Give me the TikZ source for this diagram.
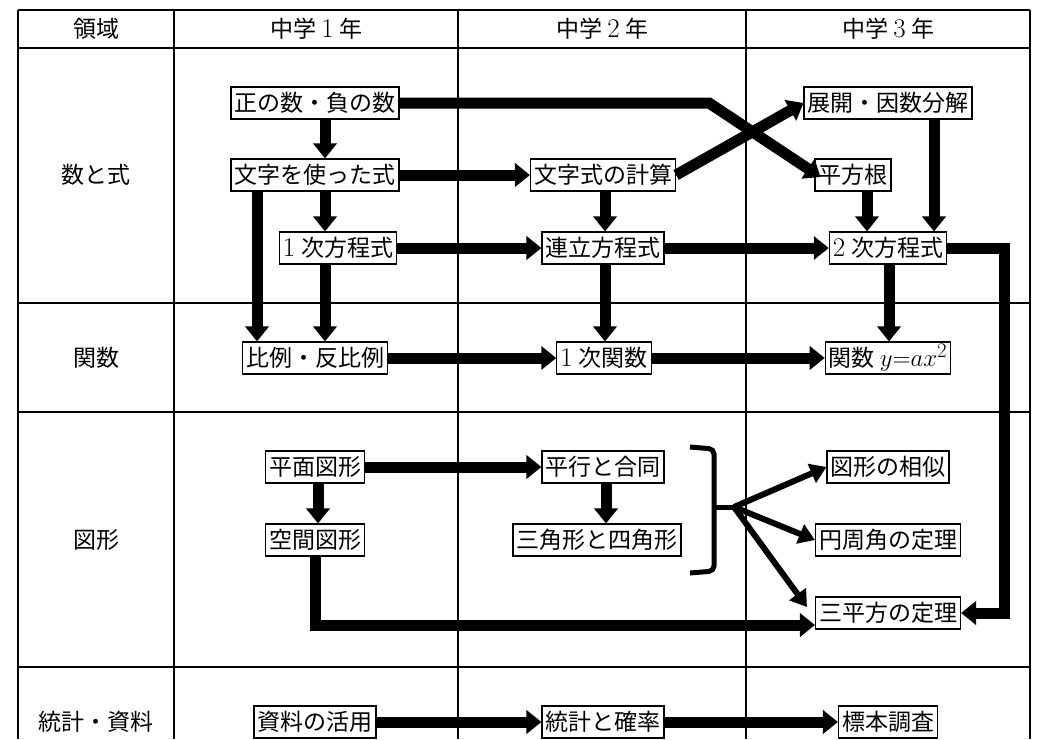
\documentclass[tikz,border=0pt]{standalone}
\usepackage{fontspec}
\newfontfamily\jpfamily{Noto Sans CJK JP}
\usetikzlibrary{arrows.meta,calc}
\newcommand{\jpfont}{\fontsize{23}{28}\selectfont\jpfamily}
\newcommand{\bignum}{\fontsize{27}{28}\selectfont\rmfamily}
\newcommand{\bigmath}{\fontsize{30}{32}\selectfont}
\newcommand{\numlead}[1]{{\bignum #1}\hspace{6pt}}
\newcommand{\numfull}[1]{\makebox[1em]{\bignum #1}}

\begin{document}
\begin{tikzpicture}[x=1pt,y=-1pt,
  box/.style={draw,line width=1.1pt,inner xsep=3.5pt,inner ysep=0pt,minimum height=32pt,font=\jpfont},
  cell/.style={font=\jpfont},
  fat/.style={line width=11pt,-{Triangle[width=23pt,length=15pt]}},
  slim/.style={line width=6pt,-{Triangle[width=20pt,length=16pt]}}]
\useasboundingbox (0,0) rectangle (1054,739);
% table
\foreach \x in {18,174,458,746,1030}
  \draw[line width=1.2pt] (\x,10) -- (\x,739);
\foreach \y in {10,48,303,412,667}
  \draw[line width=1.2pt] (18,\y) -- (1030,\y);
\node[cell] (hd0) at (96,29) {領域};
\node[cell] (hd1) at (316,29) {中学\numfull{1}年};
\node[cell] (hd2) at (602,29) {中学\numfull{2}年};
\node[cell] (hd3) at (888,29) {中学\numfull{3}年};
\node[cell] (rw1) at (96,175) {数と式};
\node[cell] (rw2) at (96,358) {関数};
\node[cell] (rw3) at (96,540) {図形};
\node[cell] (rw4) at (96,722) {統計・資料};
% grade 1
\node[box] (seifu) at (315,103) {正の数・負の数};
\node[box] (moji) at (315,175) {文字を使った式};
\node[box] (ichiji) at (338,248) {\numlead{1}次方程式};
\node[box] (hirei) at (315,358) {比例・反比例};
\node[box] (heimen) at (315,467) {平面図形};
\node[box] (kukan) at (315,540) {空間図形};
\node[box] (shiryo) at (315,722) {資料の活用};
% grade 2
\node[box] (mojishiki) at (603,175) {文字式の計算};
\node[box] (renritsu) at (603,248) {連立方程式};
\node[box] (ichijikansu) at (604,358) {\numlead{1}次関数};
\node[box] (heiko) at (603,467) {平行と合同};
\node[box] (sankaku) at (597,540) {三角形と四角形};
\node[box] (tokei) at (603,722) {統計と確率};
% grade 3
\node[box] (tenkai) at (888,103) {展開・因数分解};
\node[box] (heihokon) at (853,175) {平方根};
\node[box] (niji) at (888,248) {\numlead{2}次方程式};
\node[box] (kansu) at (888,358) {関数 {\bigmath$y{=}ax^2$}};
\node[box] (soji) at (888,467) {図形の相似};
\node[box] (enshu) at (888,540) {円周角の定理};
\node[box] (sanheiho) at (888,613) {三平方の定理};
\node[box] (hyohon) at (888,722) {標本調査};
% arrows
\draw[fat] ([xshift=10pt]seifu.south) -- ([xshift=10pt]moji.north);
\draw[fat] ([xshift=10pt]moji.south) -- ([xshift=10pt]moji.south |- ichiji.north);
\draw[fat] ([xshift=-58pt]moji.south) -- ([xshift=-58pt]moji.south |- hirei.north);
\draw[fat] ([xshift=-13pt]ichiji.south) -- ([xshift=-13pt]ichiji.south |- hirei.north);
\draw[fat] ([xshift=3pt]heimen.south) -- ([xshift=3pt]kukan.north);
\draw[fat] (moji.east) -- (mojishiki.west);
\draw[fat] (ichiji.east) -- (renritsu.west);
\draw[fat] (renritsu.east) -- (niji.west);
\draw[fat] (hirei.east) -- (ichijikansu.west);
\draw[fat] (ichijikansu.east) -- (kansu.west);
\draw[fat] (heimen.east) -- (heiko.west);
\draw[fat] (shiryo.east) -- (tokei.west);
\draw[fat] (tokei.east) -- (hyohon.west);
\draw[fat] ([xshift=2pt]mojishiki.south) -- ([xshift=2pt]renritsu.north);
\draw[fat] ([xshift=2pt]renritsu.south) -- ([xshift=1pt]ichijikansu.north);
\draw[fat] ([xshift=3pt]heiko.south) -- ([xshift=9pt]sankaku.north);
\draw[fat] ([xshift=14pt]heihokon.south) -- ([xshift=14pt]heihokon.south |- niji.north);
\draw[fat] ([xshift=46pt]tenkai.south) -- ([xshift=46pt]tenkai.south |- niji.north);
\draw[fat] ([xshift=1pt]niji.south) -- ([xshift=1pt]kansu.north);
\draw[fat] (kukan.south) |- ([shift={(0,12)}]sanheiho.west);
\coordinate (bend) at (709,103);
\draw[fat] (seifu.east) -- (bend) -- ([shift={(6,2)}]heihokon.west);
\draw[fat] (mojishiki.east) -- (tenkai.west);
\coordinate (turn) at (1004,248);
\draw[fat] (niji.east) -- (turn) |- (sanheiho.east);
% bracket
\coordinate (brk) at (734,507);
\draw[line width=5pt,rounded corners=5pt] (690,447) -- (714,449) -- (714,571) -- (690,573);
\draw[line width=5pt] (714,507) -- (brk);
\draw[slim] (brk) -- (soji.west);
\draw[slim] (brk) -- (enshu.west);
\draw[slim] (brk) -- ([shift={(-8,-6)}]sanheiho.west);
\end{tikzpicture}
\end{document}
